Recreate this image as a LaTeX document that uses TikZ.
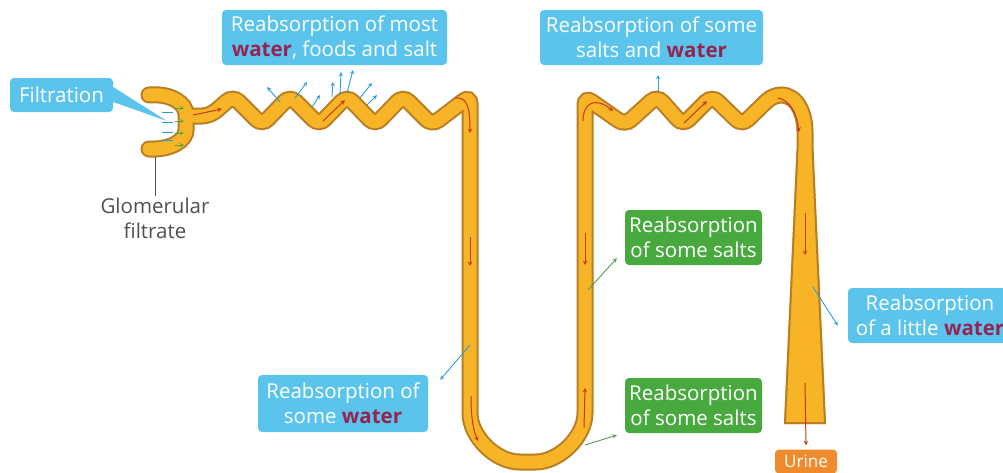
\documentclass[tikz,border=0pt]{standalone}
\usepackage{fontspec}
\setmainfont{Open Sans}

\definecolor{tubeorange}{RGB}{246,180,38}
\definecolor{tubebrown}{RGB}{185,125,35}
\definecolor{flowred}{RGB}{200,55,25}
\definecolor{boxblue}{RGB}{90,196,236}
\definecolor{leakblue}{RGB}{45,160,210}
\definecolor{saltgreen}{RGB}{72,170,62}
\definecolor{watertext}{RGB}{150,35,80}
\definecolor{urineorange}{RGB}{238,140,45}
\definecolor{labelgray}{RGB}{80,80,80}

\newcommand\boxfont{\fontsize{20.5}{25}\selectfont}
\newcommand\waterword{\textbf{\textcolor{watertext}{water}}}

\begin{document}
\begin{tikzpicture}[x=1pt, y=-1pt,
  tubeedge/.style={draw=tubebrown, line width=17pt, rounded corners=8pt},
  tubecore/.style={draw=tubeorange, line width=13pt, rounded corners=8pt},
  bluebox/.style={fill=boxblue, text=white, rounded corners=4pt, align=center,
    inner sep=0pt, font=\boxfont},
  greenbox/.style={bluebox, fill=saltgreen},
  flow/.style={->, >=stealth, draw=flowred, line width=1pt},
  leak/.style={->, >=stealth, draw=leakblue, line width=0.9pt},
  saltarr/.style={->, >=stealth, draw=saltgreen!70!gray, line width=0.9pt}
]
\fill[white] (0,0) rectangle (1003,472);
\useasboundingbox (0,0) rectangle (1003,472);

% nephron: edge pass first, then the core on top
\foreach \st in {tubeedge,tubecore} {
  \draw[\st, line cap=round] (149,95) .. controls (172,93) and (186,104) .. (186,122)
    .. controls (186,140) and (172,150) .. (149,149);
  \draw[\st] (184,116) -- (210,116) -- (233,96) -- (262,125) -- (290,96)
    -- (319,125) -- (347,96) -- (375,125) -- (403,96) -- (432,125)
    -- (470,96) -- (470,405)
    .. controls (470,436.7) and (495.8,462) .. (527.5,462)
    .. controls (559.2,462) and (585,436.7) .. (585,405)
    -- (585,97) -- (625,125) -- (657,96) -- (683,125) -- (712,96)
    -- (742,125) -- (773,95)
    .. controls (798,95) and (805,115) .. (805,140) -- (805,165);
}
% collecting duct
\fill[tubeorange] (796.5,150) -- (784,424) -- (826,424) -- (813.5,150) -- cycle;
\draw[tubebrown, line width=2pt] (797.5,150) -- (785,423) -- (825,423) -- (812.5,150);

% flow inside the tubule
\draw[flow] (193,115) -- (222,109);
\draw[flow] (323,121) -- (345,100);
\draw[flow] (455,98) .. controls (466,97) and (470,104) .. (470,133);
\draw[flow] (470,237) -- (470,266);
\draw[flow] (471,396) .. controls (471,420) and (474,432) .. (478,441);
\draw[flow] (584,428) -- (585,388);
\draw[flow] (585,233) -- (585,265);
\draw[flow] (583,121) .. controls (583,102) and (596,97) .. (613,111);
\draw[flow] (684,123) -- (707,101);
\draw[flow] (778,98) .. controls (790,100) and (797,114) .. (799,132);
\draw[flow] (805,213) -- (805,255);

% filtration into the capsule
\foreach \y in {112,122,132,140}
  \draw[leakblue, line width=0.8pt] (162,\y) -- (173,\y);
\foreach \y in {108,121,133,145}
  \draw[->, >=stealth, saltgreen, line width=0.8pt] (175,\y) -- (184,\y);

% water, foods and salt leaving the first coil
\foreach \xa/\ya/\xb/\yb in {280/102/267/87, 295/98/307/82, 312/107/320/95,
    332/97/333/82, 340/95/341/72, 347/93/353/70, 360/98/372/83, 367/105/377/95}
  \draw[leak] (\xa,\ya) -- (\xb,\yb);
\draw[leak] (658,92) -- (658,75);

% labels
\node[bluebox, minimum width=103pt, minimum height=34pt] (filt) at (61.5,95)
  {Filtration};
\coordinate (ftip) at (167,121);
\fill[boxblue] ([yshift=8pt]filt.east) -- (ftip) -- ([yshift=-7pt]filt.east) -- cycle;

\node[bluebox, minimum width=225pt, minimum height=55pt] (most) at (334.5,37.5)
  {Reabsorption of most\\\waterword, foods and salt};
\node[bluebox, minimum width=223pt, minimum height=55pt] (some) at (651.5,37.5)
  {Reabsorption of some\\salts and \waterword};
\node[bluebox, minimum width=170pt, minimum height=57pt] (loopw) at (343,403.5)
  {Reabsorption of\\some \waterword};
\node[greenbox, minimum width=137pt, minimum height=55pt] (upsalt) at (693.5,237.5)
  {Reabsorption\\of some salts};
\node[greenbox, minimum width=137pt, minimum height=55pt] (lowsalt) at (693.5,405.5)
  {Reabsorption\\of some salts};
\node[bluebox, minimum width=164pt, minimum height=55pt] (duct) at (930,315.5)
  {Reabsorption\\of a little \waterword};
\node[bluebox, fill=urineorange, font=\fontsize{17}{20}\selectfont,
  minimum width=62pt, minimum height=24pt] (urine) at (806,461.5) {Urine};
\node[text=labelgray, align=center, font=\boxfont, anchor=north, inner sep=2pt]
  (glom) at (155,196) {Glomerular\\filtrate};

% pointers to the labels
\coordinate (gbase) at (155,157);
\draw[labelgray, line width=1pt] (gbase) -- (glom.north);
\coordinate (wleak) at (470,345);
\draw[leak] (wleak) -- ([xshift=12pt,yshift=-5pt]loopw.north east);
\coordinate (s1) at (588,290);
\draw[saltarr] (s1) -- ([xshift=-8pt,yshift=7pt]upsalt.south west);
\coordinate (s2) at (585,445);
\draw[saltarr] (s2) -- ([xshift=-8pt,yshift=-2pt]lowsalt.south west);
\coordinate (dleak) at (813,287);
\draw[leak] (dleak) -- ([xshift=-10pt,yshift=-10pt]duct.west);
\coordinate (uflow) at (805,383);
\draw[flow] (uflow) -- ([yshift=4pt]urine.north);
\end{tikzpicture}
\end{document}
